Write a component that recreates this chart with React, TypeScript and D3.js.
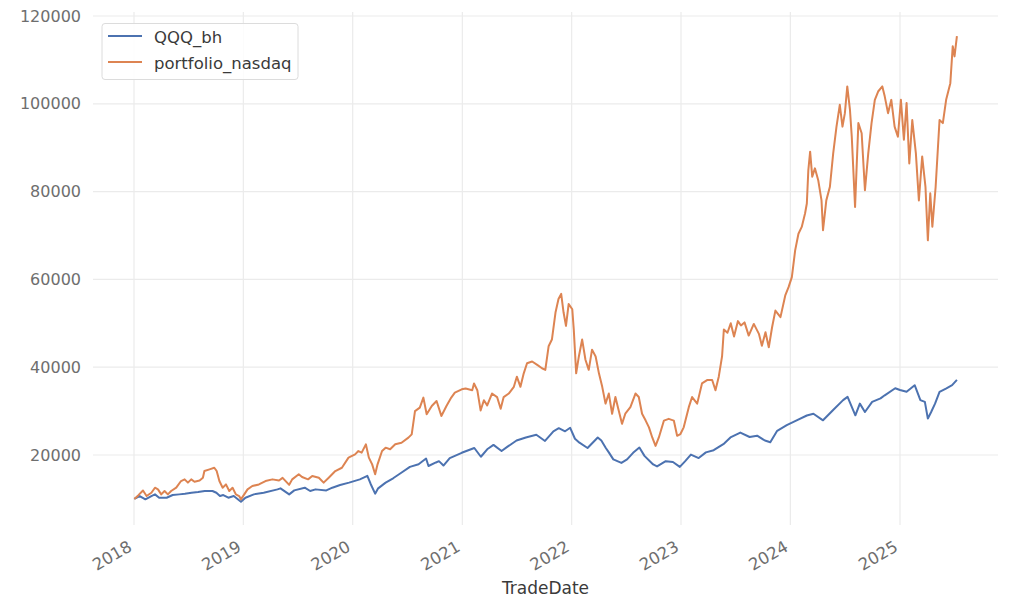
import React from "react";
import * as d3 from "d3";

const yTicks = [20000, 40000, 60000, 80000, 100000, 120000];
const xTickYears = [2018, 2019, 2020, 2021, 2022, 2023, 2024, 2025];
const seriesNames = ["QQQ_bh", "portfolio_nasdaq"];
const seriesColors = ["#4C72B0", "#DD8452"];
const xLabel = "TradeDate";

const qqqDates = [
  "2018-01-02","2018-01-20","2018-02-08","2018-02-28","2018-03-12","2018-03-26","2018-04-20","2018-05-10",
  "2018-06-01","2018-06-20","2018-07-12","2018-08-03","2018-08-25","2018-09-20","2018-10-03","2018-10-15",
  "2018-10-26","2018-11-12","2018-11-30","2018-12-24","2019-01-08","2019-02-05","2019-03-10","2019-04-25",
  "2019-05-05","2019-06-03","2019-06-20","2019-07-25","2019-08-12","2019-08-30","2019-10-05","2019-10-25",
  "2019-11-20","2019-12-20","2020-01-25","2020-02-19","2020-03-01","2020-03-16","2020-03-26","2020-04-20",
  "2020-05-15","2020-06-10","2020-07-10","2020-08-08","2020-09-02","2020-09-10","2020-10-05","2020-10-15",
  "2020-10-30","2020-11-20","2020-12-30","2021-02-10","2021-03-04","2021-03-25","2021-04-15","2021-05-12",
  "2021-06-01","2021-07-01","2021-08-01","2021-09-05","2021-10-04","2021-11-01","2021-11-19","2021-12-10",
  "2021-12-27","2022-01-12","2022-01-27","2022-02-23","2022-03-29","2022-04-10","2022-04-25","2022-05-05",
  "2022-05-20","2022-06-16","2022-07-05","2022-07-25","2022-08-15","2022-09-01","2022-09-30","2022-10-13",
  "2022-11-11","2022-12-05","2022-12-28","2023-01-15","2023-02-03","2023-03-01","2023-03-25","2023-04-20",
  "2023-05-25","2023-06-15","2023-07-18","2023-08-18","2023-09-12","2023-10-08","2023-10-26","2023-11-18",
  "2023-12-20","2024-01-22","2024-02-25","2024-03-18","2024-04-19","2024-05-22","2024-06-25","2024-07-10",
  "2024-08-05","2024-08-20","2024-09-06","2024-09-30","2024-10-28","2024-11-11","2024-12-16","2025-01-01",
  "2025-01-23","2025-02-19","2025-03-10","2025-03-25","2025-04-04","2025-04-15","2025-04-28","2025-05-13",
  "2025-06-05","2025-06-24","2025-07-10",
];
const qqqValues = [
  10000,10650,9900,10650,11030,10270,10270,10880,
  11030,11180,11400,11560,11800,11800,11400,10650,
  10880,10270,10650,9360,10270,11030,11400,12170,
  12400,11030,11940,12550,11800,12170,11940,12550,
  13160,13700,14450,15250,13400,11200,12400,13700,
  14700,15900,17300,17900,19200,17500,18300,18600,
  17600,19300,20500,21600,19600,21300,22300,20900,
  21900,23300,24000,24600,23200,25400,26100,25400,
  26200,23700,22800,21600,24000,23300,21600,20600,
  19000,18200,19000,20500,21700,19800,17850,17400,
  18600,18400,17300,18600,20100,19300,20600,21100,
  22600,24000,25100,24100,24400,23300,22900,25500,
  26800,27900,29000,29400,27900,30200,32500,33250,
  29040,31700,29800,32100,32900,33600,35200,34800,
  34400,35900,32500,32100,28300,29800,31700,34400,
  35200,35900,37100,
];

const portDates = [
  "2018-01-02","2018-01-15","2018-01-31","2018-02-12","2018-02-28","2018-03-12","2018-03-22","2018-04-02",
  "2018-04-13","2018-04-24","2018-05-05","2018-05-22","2018-06-07","2018-06-19","2018-06-30","2018-07-11",
  "2018-07-22","2018-08-08","2018-08-19","2018-08-24","2018-09-10","2018-09-26","2018-10-04","2018-10-13",
  "2018-10-24","2018-11-04","2018-11-15","2018-11-26","2018-12-07","2018-12-18","2018-12-24","2019-01-04",
  "2019-01-15","2019-01-31","2019-02-22","2019-03-16","2019-04-08","2019-04-30","2019-05-12","2019-06-03",
  "2019-06-13","2019-07-05","2019-07-16","2019-08-05","2019-08-19","2019-09-10","2019-09-26","2019-10-13",
  "2019-11-04","2019-11-26","2019-12-18","2020-01-09","2020-01-20","2020-01-31","2020-02-14","2020-02-24",
  "2020-03-06","2020-03-16","2020-03-24","2020-04-08","2020-04-20","2020-05-05","2020-05-22","2020-06-12",
  "2020-07-05","2020-07-16","2020-07-27","2020-08-12","2020-08-24","2020-09-04","2020-09-21","2020-10-07",
  "2020-10-23","2020-11-09","2020-11-25","2020-12-07","2020-12-30","2021-01-12","2021-02-03","2021-02-09",
  "2021-02-20","2021-03-03","2021-03-14","2021-03-25","2021-04-10","2021-04-27","2021-05-09","2021-05-19",
  "2021-06-05","2021-06-22","2021-07-02","2021-07-14","2021-07-25","2021-08-05","2021-08-22","2021-09-08",
  "2021-09-24","2021-10-05","2021-10-16","2021-10-27","2021-11-08","2021-11-18","2021-11-27","2021-12-05",
  "2021-12-13","2021-12-22","2022-01-03","2022-01-08","2022-01-16","2022-01-25","2022-02-05","2022-02-16",
  "2022-02-27","2022-03-10","2022-03-22","2022-04-02","2022-04-13","2022-04-24","2022-05-05","2022-05-16",
  "2022-05-27","2022-06-07","2022-06-18","2022-06-29","2022-07-16","2022-08-02","2022-08-13","2022-08-24",
  "2022-09-05","2022-09-16","2022-09-27","2022-10-08","2022-10-19","2022-11-05","2022-11-21","2022-12-08",
  "2022-12-19","2022-12-30","2023-01-10","2023-01-27","2023-02-07","2023-02-24","2023-03-12","2023-03-29",
  "2023-04-15","2023-04-26","2023-05-07","2023-05-18","2023-05-24","2023-06-05","2023-06-16","2023-06-27",
  "2023-07-10","2023-07-20","2023-08-01","2023-08-15","2023-09-01","2023-09-18","2023-09-28","2023-10-10",
  "2023-10-21","2023-11-01","2023-11-12","2023-11-29","2023-12-15","2023-12-26","2024-01-06","2024-01-17",
  "2024-01-28","2024-02-08","2024-02-19","2024-02-25","2024-03-01","2024-03-07","2024-03-14","2024-03-23",
  "2024-04-03","2024-04-14","2024-04-19","2024-04-30","2024-05-12","2024-05-23","2024-06-03","2024-06-14",
  "2024-06-23","2024-07-01","2024-07-09","2024-07-18","2024-07-24","2024-08-04","2024-08-15","2024-08-26",
  "2024-09-06","2024-09-17","2024-09-28","2024-10-09","2024-10-20","2024-11-03","2024-11-11","2024-11-22",
  "2024-12-03","2024-12-14","2024-12-25","2025-01-04","2025-01-14","2025-01-23","2025-02-01","2025-02-11",
  "2025-02-23","2025-03-05","2025-03-16","2025-03-27","2025-04-04","2025-04-12","2025-04-19","2025-04-30",
  "2025-05-13","2025-05-24","2025-06-04","2025-06-18","2025-06-26","2025-07-02","2025-07-10",
];
const portValues = [
  10000,10800,11900,10650,11400,12550,12170,11030,
  11800,11030,11800,12550,14070,14450,13700,14450,
  13900,14200,14830,16350,16730,17100,16350,14070,
  12550,13300,11800,12550,11030,10650,9900,11030,
  12170,12930,13300,14070,14450,14200,14800,13200,
  14450,15600,14980,14450,15200,14830,13700,14830,
  16350,17100,19400,20150,20900,20530,22430,19400,
  17870,15600,17870,20900,21670,21300,22430,22800,
  23950,24700,30000,30800,33070,29270,31170,32300,
  28900,31170,33070,34200,34970,35150,34760,36300,
  34760,30150,32460,31300,34000,33200,30540,33200,
  34000,35530,37840,35530,38600,40900,41300,40530,
  39760,39400,44760,46300,52450,55530,56700,52450,
  49400,54400,53200,48600,38600,42450,46300,41700,
  39400,44000,42450,38600,35530,31700,34000,29400,
  33200,30150,27100,29400,30900,34000,33200,29400,
  27840,26300,24000,22080,24000,27840,28230,27840,
  24380,24770,26300,30900,33200,31700,36300,37070,
  37070,34760,37840,42450,48600,47840,50000,47000,
  50500,49500,50200,47200,49860,47600,44900,47950,
  44530,49100,52900,51400,56340,58240,60530,66600,
  70400,71960,75000,77300,84900,89100,83400,85300,
  82600,78000,71200,78000,81100,88700,94800,99770,
  94800,97870,103960,98600,92500,76500,95600,93300,
  80300,88700,95600,100900,102800,103960,101700,97870,
  100900,94800,92500,100900,91800,100200,86400,96300,
  88700,78000,88000,81100,68900,79600,72000,81100,
  96300,95600,100900,104700,113100,110800,115400,
];

const W = 1024;
const H = 603;
const plot = { left: 93, right: 998, top: 12, bottom: 525 };
const fontFamily = "'DejaVu Sans', sans-serif";

export default function App() {
  const parse = d3.utcParse("%Y-%m-%d");
  const x = d3
    .scaleUtc()
    .domain([new Date(Date.UTC(2018, 0, 1)), new Date(Date.UTC(2025, 0, 1))])
    .range([134, 900]);
  const y = d3.scaleLinear().domain([20000, 120000]).range([455, 16]);

  const series = [
    qqqDates.map((d, i) => ({ date: parse(d) as Date, value: qqqValues[i] })),
    portDates.map((d, i) => ({ date: parse(d) as Date, value: portValues[i] })),
  ];
  const line = d3
    .line<{ date: Date; value: number }>()
    .x((d) => x(d.date))
    .y((d) => y(d.value));

  const legendRows = [37, 63];

  return (
    <svg
      width={W}
      height={H}
      style={{ position: "absolute", left: 0, top: 0, background: "#fff" }}
      fontFamily={fontFamily}
    >
      <rect x={0} y={0} width={W} height={H} fill="#fff" />
      {yTicks.map((t) => (
        <line
          key={"gy" + t}
          x1={plot.left}
          x2={plot.right}
          y1={y(t)}
          y2={y(t)}
          stroke="#ebebeb"
          strokeWidth={1.2}
        />
      ))}
      {xTickYears.map((yr) => {
        const px = x(new Date(Date.UTC(yr, 0, 1)));
        return (
          <line
            key={"gx" + yr}
            x1={px}
            x2={px}
            y1={plot.top}
            y2={plot.bottom}
            stroke="#ebebeb"
            strokeWidth={1.2}
          />
        );
      })}
      {yTicks.map((t) => (
        <text
          key={"ty" + t}
          x={81}
          y={y(t)}
          textAnchor="end"
          dominantBaseline="central"
          fontSize={16}
          fill="#6e6e6e"
        >
          {t}
        </text>
      ))}
      {xTickYears.map((yr) => {
        const px = x(new Date(Date.UTC(yr, 0, 1))) - 1;
        return (
          <text
            key={"tx" + yr}
            x={px}
            y={550}
            textAnchor="end"
            fontSize={16.5}
            fill="#6e6e6e"
            transform={`rotate(-30, ${px}, 550)`}
          >
            {yr}
          </text>
        );
      })}
      <text
        x={(plot.left + plot.right) / 2}
        y={594}
        textAnchor="middle"
        fontSize={17}
        fill="#3a3a3a"
      >
        {xLabel}
      </text>
      {series.map((s, i) => (
        <path
          key={"s" + i}
          d={line(s) || ""}
          fill="none"
          stroke={seriesColors[i]}
          strokeWidth={2}
          strokeLinejoin="round"
        />
      ))}
      <rect
        x={102}
        y={23.5}
        width={196}
        height={56}
        rx={3}
        fill="#fff"
        fillOpacity={0.85}
        stroke="#dcdcdc"
        strokeWidth={1}
      />
      {seriesNames.map((n, i) => (
        <g key={"lg" + i}>
          <line
            x1={108}
            x2={142}
            y1={legendRows[i] - 1}
            y2={legendRows[i] - 1}
            stroke={seriesColors[i]}
            strokeWidth={2}
          />
          <text
            x={154}
            y={legendRows[i]}
            dominantBaseline="central"
            fontSize={16.5}
            fill="#3a3a3a"
          >
            {n}
          </text>
        </g>
      ))}
    </svg>
  );
}
